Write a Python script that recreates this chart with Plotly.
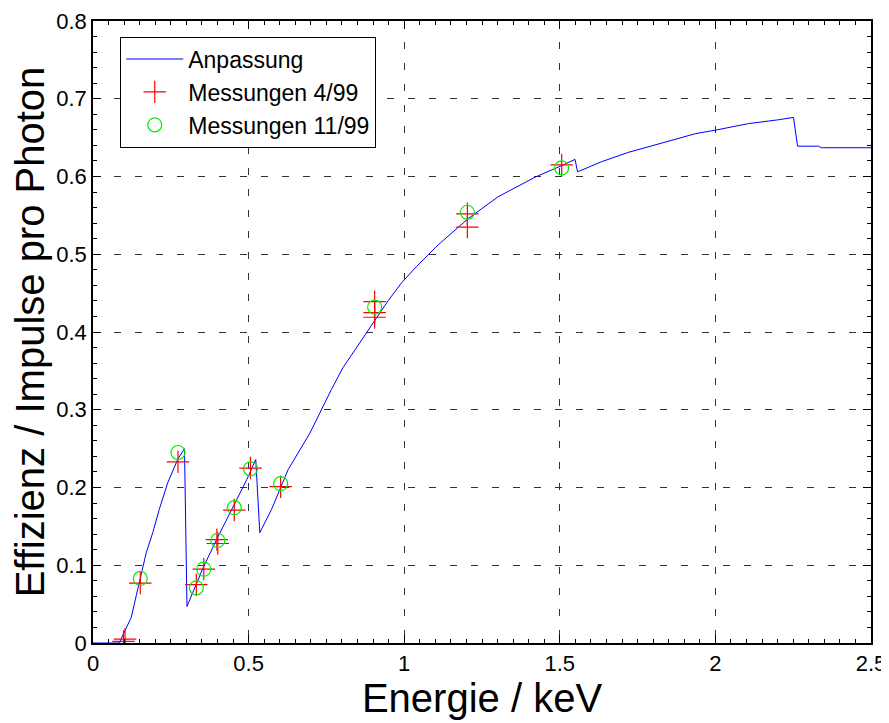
import plotly.graph_objects as go

# Fitted curve (Anpassung)
fit_x = [0, 0.085, 0.09, 0.123, 0.139, 0.160, 0.171, 0.192, 0.213, 0.240, 0.272, 0.294,
         0.302, 0.328, 0.354, 0.397, 0.451, 0.494, 0.523, 0.536, 0.574, 0.589, 0.627,
         0.697, 0.740, 0.766, 0.803, 0.862, 0.889, 0.948, 0.991, 1.039, 1.109, 1.206,
         1.302, 1.420, 1.506, 1.549, 1.557, 1.634, 1.720, 1.828, 1.935, 2.005, 2.106,
         2.203, 2.251, 2.264, 2.332, 2.340, 2.5]
fit_y = [0, 0, 0.005, 0.033, 0.061, 0.095, 0.116, 0.142, 0.172, 0.206, 0.236, 0.250,
         0.047, 0.072, 0.097, 0.133, 0.176, 0.210, 0.236, 0.142, 0.172, 0.187, 0.223,
         0.270, 0.305, 0.326, 0.354, 0.389, 0.405, 0.440, 0.463, 0.484, 0.512, 0.546,
         0.574, 0.599, 0.614, 0.622, 0.606, 0.619, 0.631, 0.643, 0.655, 0.660, 0.668,
         0.673, 0.676, 0.639, 0.639, 0.637, 0.637]

# Messungen 4/99
m4_x = [0.098, 0.103, 0.152, 0.273, 0.332, 0.356, 0.398, 0.401, 0.454, 0.506, 0.603,
        0.905, 0.905, 0.905, 1.203, 1.203, 1.506]
m4_y = [0.002, 0.005, 0.077, 0.233, 0.075, 0.095, 0.133, 0.128, 0.171, 0.225, 0.201,
        0.439, 0.425, 0.419, 0.552, 0.535, 0.615]

# Messungen 11/99
m11_x = [0.152, 0.273, 0.332, 0.356, 0.401, 0.454, 0.506, 0.603, 0.905, 1.203, 1.506]
m11_y = [0.083, 0.245, 0.071, 0.095, 0.132, 0.174, 0.224, 0.205, 0.432, 0.554, 0.611]

FONT = "Liberation Sans, Arial, sans-serif"

fig = go.Figure()
fig.add_trace(go.Scatter(x=fit_x, y=fit_y, mode="lines", name="Anpassung",
                         line=dict(color="#0000ff", width=1)))
fig.add_trace(go.Scatter(x=m4_x, y=m4_y, mode="markers", name="Messungen 4/99",
                         marker=dict(symbol="cross-thin-open", size=16,
                                     line=dict(color="#ff0000", width=1.2), color="#ff0000")))
fig.add_trace(go.Scatter(x=m11_x, y=m11_y, mode="markers", name="Messungen 11/99",
                         marker=dict(symbol="circle-open", size=14,
                                     line=dict(color="#00f000", width=1.2), color="#00f000")))

axis_common = dict(
    showline=True, linecolor="black", linewidth=1.5, mirror="allticks",
    ticks="inside", ticklen=8, tickwidth=1, tickcolor="black",
    showgrid=True, gridcolor="#333333", gridwidth=1, griddash="7px,14px",
    zeroline=False, ticklabeloverflow="allow",
    tickfont=dict(family=FONT, size=22, color="black"),
)

fig.update_xaxes(range=[0, 2.5], dtick=0.5, tick0=0,
                 minor=dict(dtick=0.05, ticks="inside", ticklen=4, tickcolor="black", showgrid=False),
                 title=dict(text="Energie / keV", font=dict(family=FONT, size=40, color="black"),
                            standoff=6),
                 **axis_common)
fig.update_yaxes(range=[0, 0.8], dtick=0.1, tick0=0,
                 minor=dict(dtick=0.02, ticks="inside", ticklen=4, tickcolor="black", showgrid=False),
                 title=dict(text="Effizienz / Impulse pro Photon",
                            font=dict(family=FONT, size=40, color="black"), standoff=0),
                 **axis_common)

fig.update_layout(
    width=889, height=723,
    margin=dict(l=85, r=26, t=13, b=88, autoexpand=False),
    paper_bgcolor="white", plot_bgcolor="white",
    showlegend=True,
    legend=dict(x=0.035, y=0.975, xanchor="left", yanchor="top",
                bgcolor="white", bordercolor="black", borderwidth=1,
                itemwidth=57,
                font=dict(family=FONT, size=23, color="black")),
)

fig.write_html("out.html")
